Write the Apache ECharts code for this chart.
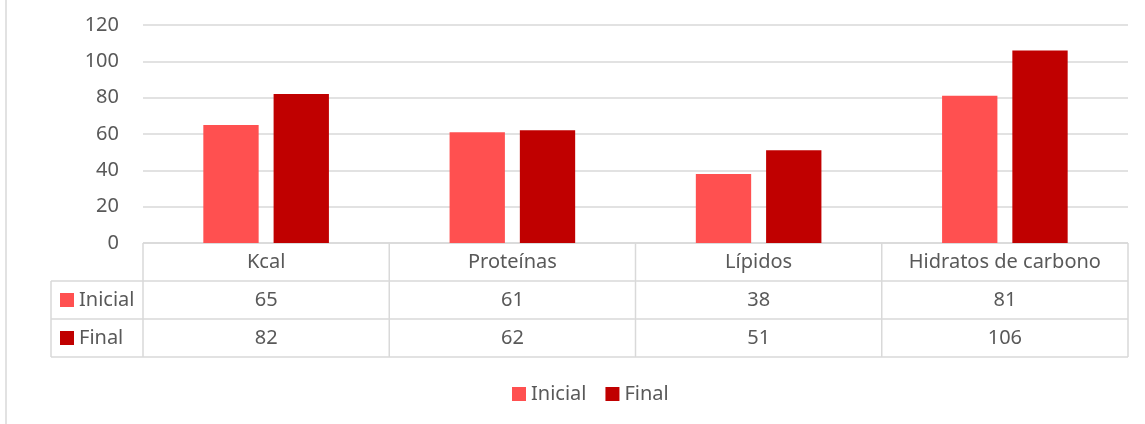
<!DOCTYPE html>
<html><head><meta charset="utf-8">
<script src="https://cdn.jsdelivr.net/npm/echarts@6/dist/echarts.min.js"></script>
<style>html,body{margin:0;padding:0;background:#fff}#c{width:1145px;height:424px}</style>
</head><body><div id="c"></div>
<script>
const categories = ['Kcal', 'Proteínas', 'Lípidos', 'Hidratos de carbono'];
const seriesNames = ['Inicial', 'Final'];
const inicial = [65, 61, 38, 81];
const finalV = [82, 62, 51, 106];
const colors = ['#FF5050', '#C00000'];

const FONT = '"Noto Sans", sans-serif';
const FS = 20;
const TXT = '#595959';
const LINE = '#D9D9D9';
const gridLeft = 143, gridRight = 1128, gridTop = 25, gridBottom = 243;
const rowH = 38, keyColLeft = 51;

const chart = echarts.init(document.getElementById('c'), null, {renderer: 'canvas'});
chart.setOption({
  animation: false,
  grid: {left: gridLeft, top: gridTop, width: gridRight - gridLeft, height: gridBottom - gridTop},
  legend: {
    left: 507, top: 379, itemWidth: 14, itemHeight: 14, itemGap: 19, icon: 'rect',
    textStyle: {fontFamily: FONT, fontSize: FS, color: TXT},
    data: seriesNames
  },
  xAxis: {
    type: 'category', data: categories,
    axisLine: {show: false}, axisTick: {show: false}, axisLabel: {show: false}
  },
  yAxis: {
    type: 'value', min: 0, max: 120, interval: 20,
    axisLine: {show: false}, axisTick: {show: false},
    axisLabel: {fontFamily: FONT, fontSize: FS, color: TXT, margin: 24},
    splitLine: {lineStyle: {color: LINE, width: 1.5}}
  },
  series: [
    {name: seriesNames[0], type: 'bar', data: inicial, itemStyle: {color: colors[0]}, barGap: '27%', barCategoryGap: '49%'},
    {name: seriesNames[1], type: 'bar', data: finalV, itemStyle: {color: colors[1]}, barGap: '27%', barCategoryGap: '49%'}
  ]
});

// Data table drawn below the plot
const g = [];
const ls = {stroke: LINE, lineWidth: 1.5};
const line = (x1, y1, x2, y2) => g.push({type: 'line', shape: {x1, y1, x2, y2}, style: ls, silent: true});
const text = (t, x, y, align) => g.push({type: 'text', x, y, style: {text: t, fontFamily: FONT, fontSize: FS, fill: TXT, align: align || 'center', verticalAlign: 'middle'}, silent: true});

const n = categories.length;
const bounds = [];
for (let i = 0; i <= n; i++) bounds.push(gridLeft + (gridRight - gridLeft) * i / n);
const y0 = gridBottom, y1 = y0 + rowH, y2 = y1 + rowH, y3 = y2 + rowH;
line(gridLeft, y0, gridRight, y0);
line(keyColLeft, y1, gridRight, y1);
line(keyColLeft, y2, gridRight, y2);
line(keyColLeft, y3, gridRight, y3);
line(keyColLeft, y1, keyColLeft, y3);
bounds.forEach(b => line(b, y0, b, y3));
// outer chart border (left edge)
line(6, 0, 6, 424);

const rows = [inicial, finalV];
categories.forEach((c, i) => {
  const cx = chart.convertToPixel({xAxisIndex: 0}, c);
  text(c, cx, (y0 + y1) / 2);
  rows.forEach((r, j) => text(String(r[i]), cx, y1 + rowH * j + rowH / 2));
});
seriesNames.forEach((s, j) => {
  const yc = y1 + rowH * j + rowH / 2;
  g.push({type: 'rect', shape: {x: 60, y: yc - 7, width: 14, height: 14}, style: {fill: colors[j]}, silent: true});
  text(s, 79, yc, 'left');
});
chart.setOption({graphic: g});
</script>
</body></html>
